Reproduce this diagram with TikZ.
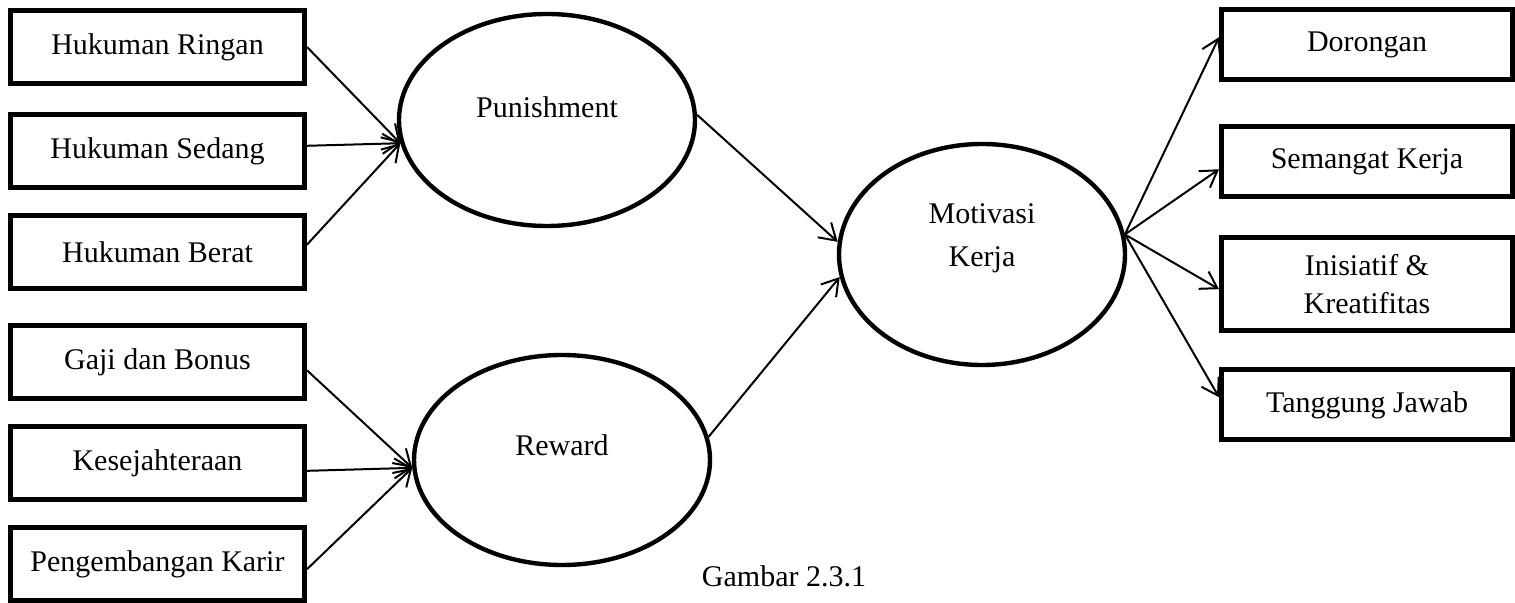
\documentclass[tikz,border=0pt]{standalone}
\usepackage{fontspec}
\setmainfont{Liberation Serif}
\usetikzlibrary{shapes,arrows.meta,positioning}

\begin{document}
\begin{tikzpicture}[x=0.5pt,y=-0.5pt,
  font=\fontsize{15}{21.5}\selectfont,
  box/.style={draw, line width=2.5pt, minimum width=147pt, minimum height=36.5pt, inner sep=0pt, align=center},
  rbox/.style={box, minimum width=145.5pt, minimum height=35pt},
  oval/.style={draw, ellipse, line width=2.2pt, inner sep=0pt},
  arr/.style={line width=1pt, -{Straight Barb[length=8pt,width=10pt,line width=1pt]}}]
\useasboundingbox (0,0) rectangle (1515,603);
% punishment side
\node[box] (HR) at (157.5,47) {Hukuman Ringan};
\node[box] (HS) at (157.5,151) {Hukuman Sedang};
\node[box] (HB) at (157.5,252.5) {Hukuman Berat};
% reward side
\node[box] (GB) at (157.5,362.5) {Gaji dan Bonus};
\node[box] (KS) at (157.5,463) {Kesejahteraan};
\node[box] (PK) at (157.5,564) {Pengembangan Karir};
% variables
\node[oval, minimum width=148pt, minimum height=106pt, label={[yshift=6.5pt]center:Punishment}] (pun) at (547,120) {};
\node[oval, minimum width=148pt, minimum height=105pt, label={[yshift=7.5pt]center:Reward}] (rew) at (562,460) {};
\node[oval, minimum width=143pt, minimum height=110.5pt, label={[yshift=8pt,align=center]center:Motivasi\\Kerja}] (mot) at (982,254.5) {};
% indicators of motivasi
\node[rbox] (DR) at (1367,45) {Dorongan};
\node[rbox] (SK) at (1367,161.5) {Semangat Kerja};
\node[rbox, minimum height=46.5pt, font=\fontsize{15}{19}\selectfont] (IK) at (1367,284) {Inisiatif \&\\Kreatifitas};
\node[rbox] (TJ) at (1367,405) {Tanggung Jawab};
\node[] (cap) at (784,576) {Gambar 2.3.1};
% connectors
\draw[arr] (HR.east) -- (pun.189);
\draw[arr] (HS.2) -- (pun.189);
\draw[arr] (HB.3) -- (pun.189);
\draw[arr] (GB.357) -- (rew.183);
\draw[arr] (KS.357) -- (rew.183);
\draw[arr] (PK.358) -- (rew.183);
\draw[arr] (pun.2) -- (mot.175);
\draw[arr] (rew.9) -- (mot.189);
\draw[arr] (mot.8) -- (DR.177);
\draw[arr] (mot.8) -- (SK.183);
\draw[arr] (mot.8) -- (IK.182);
\draw[arr] (mot.8) -- (TJ.177);
\end{tikzpicture}
\end{document}
